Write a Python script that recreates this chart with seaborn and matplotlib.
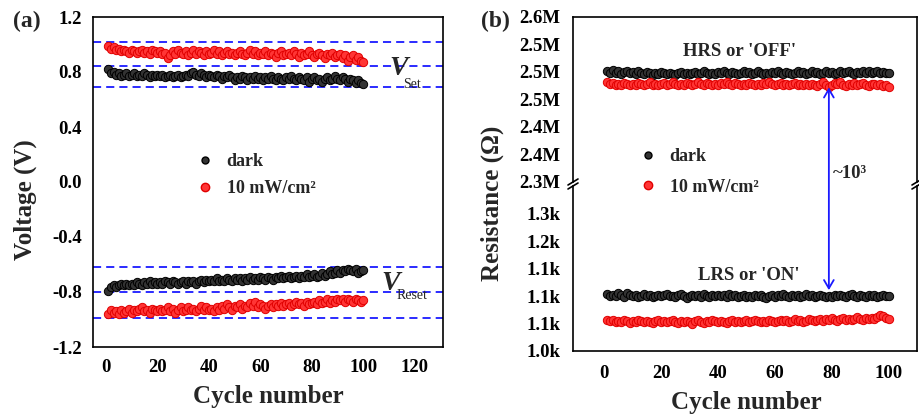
import matplotlib
matplotlib.use("Agg")
import matplotlib.pyplot as plt
import seaborn as sns
import numpy as np
import pandas as pd
from matplotlib.lines import Line2D
from matplotlib.patches import ConnectionPatch
from matplotlib.ticker import FixedLocator, FixedFormatter, MultipleLocator

# ---------------- data ----------------
cycles = list(range(1, 101))

set_light = [0.99, 0.97, 0.98, 0.96, 0.97, 0.95, 0.96, 0.95, 0.94, 0.96,
             0.95, 0.94, 0.95, 0.96, 0.94, 0.95, 0.93, 0.96, 0.95, 0.94,
             0.95, 0.93, 0.94, 0.90, 0.92, 0.95, 0.93, 0.96, 0.94, 0.93,
             0.95, 0.92, 0.94, 0.96, 0.93, 0.95, 0.94, 0.92, 0.95, 0.93,
             0.94, 0.96, 0.93, 0.95, 0.92, 0.94, 0.95, 0.93, 0.94, 0.92,
             0.94, 0.95, 0.93, 0.92, 0.94, 0.96, 0.93, 0.95, 0.92, 0.94,
             0.93, 0.95, 0.92, 0.94, 0.93, 0.91, 0.94, 0.95, 0.92, 0.93,
             0.94, 0.92, 0.95, 0.93, 0.91, 0.94, 0.92, 0.93, 0.95, 0.92,
             0.91, 0.93, 0.94, 0.92, 0.90, 0.93, 0.92, 0.94, 0.91, 0.92,
             0.93, 0.90, 0.92, 0.88, 0.91, 0.92, 0.89, 0.91, 0.88, 0.87]

set_dark = [0.82, 0.79, 0.80, 0.78, 0.79, 0.77, 0.78, 0.79, 0.77, 0.78,
            0.79, 0.77, 0.78, 0.77, 0.79, 0.78, 0.76, 0.78, 0.77, 0.78,
            0.77, 0.78, 0.76, 0.77, 0.78, 0.76, 0.77, 0.78, 0.76, 0.77,
            0.78, 0.77, 0.79, 0.80, 0.78, 0.77, 0.79, 0.78, 0.76, 0.78,
            0.77, 0.76, 0.78, 0.77, 0.75, 0.77, 0.76, 0.78, 0.76, 0.74,
            0.76, 0.75, 0.77, 0.76, 0.74, 0.76, 0.75, 0.77, 0.75, 0.76,
            0.74, 0.76, 0.75, 0.77, 0.75, 0.74, 0.76, 0.75, 0.74, 0.76,
            0.75, 0.77, 0.75, 0.74, 0.76, 0.75, 0.74, 0.76, 0.73, 0.75,
            0.76, 0.74, 0.75, 0.73, 0.75, 0.76, 0.74, 0.75, 0.77, 0.75,
            0.74, 0.76, 0.75, 0.73, 0.75, 0.74, 0.72, 0.74, 0.72, 0.71]

reset_dark = [-0.79, -0.76, -0.75, -0.76, -0.75, -0.74, -0.75, -0.74, -0.75, -0.74,
              -0.75, -0.73, -0.74, -0.75, -0.73, -0.74, -0.72, -0.74, -0.73, -0.74,
              -0.73, -0.74, -0.72, -0.73, -0.74, -0.72, -0.73, -0.74, -0.73, -0.72,
              -0.74, -0.72, -0.73, -0.72, -0.74, -0.72, -0.71, -0.73, -0.71, -0.72,
              -0.71, -0.72, -0.70, -0.72, -0.71, -0.72, -0.70, -0.71, -0.72, -0.70,
              -0.71, -0.70, -0.72, -0.70, -0.71, -0.69, -0.71, -0.70, -0.71, -0.69,
              -0.70, -0.71, -0.69, -0.70, -0.71, -0.69, -0.70, -0.68, -0.70, -0.69,
              -0.68, -0.70, -0.69, -0.68, -0.70, -0.68, -0.69, -0.67, -0.69, -0.68,
              -0.67, -0.69, -0.68, -0.66, -0.68, -0.67, -0.65, -0.67, -0.66, -0.64,
              -0.66, -0.64, -0.65, -0.63, -0.64, -0.65, -0.63, -0.66, -0.65, -0.64]

reset_light = [-0.96, -0.93, -0.95, -0.94, -0.96, -0.93, -0.95, -0.94, -0.92, -0.95,
               -0.93, -0.94, -0.92, -0.91, -0.94, -0.93, -0.95, -0.92, -0.93, -0.94,
               -0.92, -0.94, -0.93, -0.91, -0.94, -0.92, -0.95, -0.93, -0.91, -0.94,
               -0.93, -0.91, -0.93, -0.92, -0.94, -0.92, -0.90, -0.93, -0.91, -0.93,
               -0.92, -0.94, -0.91, -0.93, -0.90, -0.92, -0.89, -0.91, -0.93, -0.90,
               -0.91, -0.89, -0.92, -0.90, -0.91, -0.88, -0.90, -0.87, -0.91, -0.89,
               -0.90, -0.92, -0.90, -0.89, -0.91, -0.89, -0.90, -0.88, -0.90, -0.89,
               -0.88, -0.90, -0.89, -0.87, -0.89, -0.88, -0.90, -0.87, -0.89, -0.88,
               -0.87, -0.89, -0.86, -0.88, -0.87, -0.85, -0.88, -0.86, -0.87, -0.85,
               -0.86, -0.85, -0.87, -0.85, -0.86, -0.87, -0.85, -0.86, -0.87, -0.86]

guide_levels = [1.02, 0.845, 0.69, -0.62, -0.80, -0.99]

# resistance, HRS in MOhm, LRS in Ohm
hrs_dark = [2.502, 2.499, 2.503, 2.498, 2.501, 2.497, 2.500, 2.502, 2.498, 2.500,
            2.497, 2.501, 2.499, 2.496, 2.500, 2.498, 2.495, 2.499, 2.497, 2.500,
            2.498, 2.496, 2.499, 2.497, 2.495, 2.498, 2.500, 2.497, 2.499, 2.496,
            2.498, 2.500, 2.497, 2.499, 2.501, 2.498, 2.496, 2.499, 2.497, 2.500,
            2.498, 2.501, 2.499, 2.497, 2.500, 2.498, 2.496, 2.499, 2.501, 2.498,
            2.500, 2.497, 2.499, 2.501, 2.498, 2.496, 2.499, 2.497, 2.500, 2.498,
            2.501, 2.499, 2.497, 2.500, 2.498, 2.496, 2.499, 2.501, 2.498, 2.500,
            2.497, 2.499, 2.501, 2.498, 2.500, 2.497, 2.499, 2.502, 2.498, 2.500,
            2.497, 2.499, 2.501, 2.498, 2.500, 2.502, 2.499, 2.497, 2.500, 2.498,
            2.501, 2.499, 2.502, 2.498, 2.500, 2.501, 2.498, 2.500, 2.499, 2.498]

hrs_light = [2.481, 2.478, 2.480, 2.477, 2.479, 2.476, 2.480, 2.478, 2.476, 2.479,
             2.477, 2.480, 2.478, 2.476, 2.479, 2.481, 2.477, 2.479, 2.476, 2.478,
             2.480, 2.477, 2.479, 2.481, 2.478, 2.476, 2.479, 2.477, 2.480, 2.478,
             2.476, 2.479, 2.481, 2.478, 2.477, 2.480, 2.478, 2.476, 2.479, 2.477,
             2.480, 2.478, 2.482, 2.479, 2.477, 2.480, 2.478, 2.476, 2.479, 2.477,
             2.480, 2.478, 2.476, 2.479, 2.477, 2.480, 2.478, 2.481, 2.479, 2.476,
             2.478, 2.480, 2.477, 2.479, 2.476, 2.478, 2.480, 2.477, 2.479, 2.476,
             2.478, 2.477, 2.479, 2.476, 2.474, 2.478, 2.481, 2.476, 2.473, 2.477,
             2.480, 2.478, 2.481, 2.477, 2.475, 2.479, 2.477, 2.480, 2.476, 2.478,
             2.480, 2.477, 2.475, 2.479, 2.478, 2.476, 2.479, 2.474, 2.477, 2.473]

lrs_dark = [1104, 1101, 1103, 1100, 1105, 1102, 1099, 1106, 1103, 1100,
            1102, 1099, 1101, 1104, 1100, 1102, 1098, 1101, 1103, 1100,
            1102, 1104, 1100, 1101, 1098, 1102, 1104, 1100, 1097, 1101,
            1103, 1100, 1102, 1099, 1104, 1101, 1098, 1102, 1100, 1103,
            1100, 1102, 1099, 1104, 1101, 1103, 1098, 1100, 1102, 1099,
            1101, 1098, 1103, 1100, 1102, 1099, 1096, 1101, 1103, 1099,
            1102, 1100, 1104, 1101, 1098, 1102, 1100, 1103, 1099, 1101,
            1104, 1100, 1102, 1099, 1101, 1103, 1100, 1098, 1101, 1099,
            1102, 1100, 1103, 1101, 1099, 1102, 1104, 1100, 1098, 1102,
            1101, 1099, 1103, 1100, 1102, 1099, 1101, 1103, 1100, 1101]

lrs_light = [1057, 1054, 1056, 1053, 1055, 1052, 1056, 1054, 1051, 1055,
             1053, 1056, 1054, 1052, 1055, 1053, 1051, 1054, 1056, 1053,
             1055, 1052, 1054, 1056, 1053, 1051, 1054, 1052, 1055, 1053,
             1050, 1054, 1056, 1053, 1051, 1055, 1053, 1056, 1054, 1052,
             1055, 1053, 1051, 1054, 1056, 1053, 1055, 1052, 1054, 1056,
             1053, 1055, 1057, 1054, 1052, 1055, 1053, 1056, 1054, 1052,
             1055, 1057, 1054, 1056, 1053, 1055, 1058, 1054, 1056, 1053,
             1055, 1058, 1056, 1054, 1057, 1059, 1055, 1058, 1056, 1060,
             1057, 1055, 1059, 1061, 1057, 1059, 1056, 1058, 1062, 1059,
             1057, 1060, 1058, 1061, 1059, 1062, 1066, 1063, 1060, 1058]

series_labels = ["dark", "10 mW/cm\u00b2"]

volt_ticks = [-1.2, -0.8, -0.4, 0.0, 0.4, 0.8, 1.2]
volt_ticklabels = ["-1.2", "-0.8", "-0.4", "0.0", "0.4", "0.8", "1.2"]
hrs_ticks = [2.30, 2.35, 2.40, 2.45, 2.50, 2.55, 2.60]
hrs_ticklabels = ["2.3M", "2.4M", "2.4M", "2.5M", "2.5M", "2.5M", "2.6M"]
lrs_ticks = [1000, 1050, 1100, 1150, 1200, 1250]
lrs_ticklabels = ["1.0k", "1.1k", "1.1k", "1.1k", "1.2k", "1.3k"]

# ---------------- style ----------------
sns.set_style("white")
plt.rcParams["font.family"] = ["Liberation Serif", "DejaVu Serif"]
plt.rcParams["font.weight"] = "bold"
plt.rcParams["axes.unicode_minus"] = False
plt.rcParams["axes.linewidth"] = 1.2

W, H = 920, 418
def fx(px): return px / W
def fy(py): return 1 - py / H

BLACK_FC, BLACK_EC = "#333333", "#000000"
RED_FC, RED_EC = "#ff3535", "#e00000"
BLUE = "#1a1aff"
TICKFS = 13.5
LABELFS = 18
MS = 36

fig = plt.figure(figsize=(9.2, 4.18), dpi=100)

def style_ticks(ax):
    ax.tick_params(which="both", direction="in", top=False, right=False,
                   labelsize=TICKFS, width=1.2, colors="black")
    ax.tick_params(which="major", length=5)
    ax.tick_params(which="minor", length=3)
    for lab in ax.get_xticklabels() + ax.get_yticklabels():
        lab.set_fontweight("bold")
    for s in ax.spines.values():
        s.set_color("black")
        s.set_linewidth(1.2)

def scatter(ax, y, fc, ec):
    df = pd.DataFrame({"cycle": cycles, "val": y})
    sns.scatterplot(data=df, x="cycle", y="val", ax=ax, s=MS, color=fc,
                    edgecolor=ec, linewidth=0.7, legend=False, zorder=3)

# ---------------- panel (a) ----------------
axA = fig.add_axes([fx(93), fy(347), fx(443) - fx(93), fy(17) - fy(347)])
for lvl in guide_levels:
    axA.axhline(lvl, color=BLUE, lw=1.3, ls=(0, (4.5, 2.8)), zorder=1)
scatter(axA, set_light, RED_FC, RED_EC)
scatter(axA, set_dark, BLACK_FC, BLACK_EC)
scatter(axA, reset_dark, BLACK_FC, BLACK_EC)
scatter(axA, reset_light, RED_FC, RED_EC)
axA.set_xlim(-5, 131)
axA.set_ylim(-1.2, 1.2)
axA.xaxis.set_major_locator(MultipleLocator(20))
axA.xaxis.set_minor_locator(MultipleLocator(10))
axA.yaxis.set_major_locator(FixedLocator(volt_ticks))
axA.yaxis.set_major_formatter(FixedFormatter(volt_ticklabels))
axA.yaxis.set_minor_locator(MultipleLocator(0.2))
axA.set_xlabel("")
axA.set_ylabel("")
style_ticks(axA)
axA.tick_params(axis="y", pad=8)
axA.tick_params(axis="x", pad=9)

axA.text(110.3, 0.822, "V", fontsize=20, fontstyle="italic", fontweight="bold",
         ha="left", va="center")
axA.text(115.5, 0.708, "Set", fontsize=10, fontweight="normal", ha="left", va="center")
axA.text(107.0, -0.735, "V", fontsize=20, fontstyle="italic", fontweight="bold",
         ha="left", va="center")
axA.text(113.0, -0.825, "Reset", fontsize=10, fontweight="normal", ha="left", va="center")

handles = [Line2D([], [], ls="", marker="o", markersize=5, markerfacecolor=BLACK_FC,
                  markeredgecolor=BLACK_EC),
           Line2D([], [], ls="", marker="o", markersize=6, markerfacecolor=RED_FC,
                  markeredgecolor=RED_EC)]
axA.legend(handles, series_labels, loc="upper left", bbox_to_anchor=(fx(196), fy(153)),
           bbox_transform=fig.transFigure, frameon=False, borderpad=0, borderaxespad=0,
           handlelength=1.0, handletextpad=0.7, labelspacing=0.55,
           prop={"size": 13, "weight": "bold"})

fig.text(fx(13), fy(21), "(a)", fontsize=17, fontweight="bold", ha="left", va="center")
fig.text(fx(25), fy(200), "Voltage (V)", fontsize=LABELFS, fontweight="bold",
         rotation=90, ha="center", va="center")
fig.text(fx(268), fy(396), "Cycle number", fontsize=LABELFS, fontweight="bold",
         ha="center", va="center")

# ---------------- panel (b) ----------------
left_b, right_b = 573, 917
axT = fig.add_axes([fx(left_b), fy(182), fx(right_b) - fx(left_b), fy(17) - fy(182)])
axB = fig.add_axes([fx(left_b), fy(351), fx(right_b) - fx(left_b), fy(186) - fy(351)])

scatter(axT, hrs_dark, BLACK_FC, BLACK_EC)
scatter(axT, hrs_light, RED_FC, RED_EC)
scatter(axB, lrs_dark, BLACK_FC, BLACK_EC)
scatter(axB, lrs_light, RED_FC, RED_EC)

for ax in (axT, axB):
    ax.set_xlim(-11, 110)
    ax.set_xlabel("")
    ax.set_ylabel("")
    ax.xaxis.set_major_locator(MultipleLocator(20))
    ax.xaxis.set_minor_locator(MultipleLocator(10))

axT.set_ylim(2.30, 2.60)
axT.yaxis.set_major_locator(FixedLocator(hrs_ticks))
axT.yaxis.set_major_formatter(FixedFormatter(hrs_ticklabels))
axT.yaxis.set_minor_locator(MultipleLocator(0.025))
axB.set_ylim(1000, 1301)
axB.yaxis.set_major_locator(FixedLocator(lrs_ticks))
axB.yaxis.set_major_formatter(FixedFormatter(lrs_ticklabels))
axB.yaxis.set_minor_locator(MultipleLocator(25))

style_ticks(axT)
style_ticks(axB)
axT.spines["bottom"].set_visible(False)
axB.spines["top"].set_visible(False)
axT.tick_params(axis="x", which="both", bottom=False, labelbottom=False)
axT.tick_params(axis="y", pad=9)
axB.tick_params(axis="y", pad=9)
axB.tick_params(axis="x", pad=10)

# break marks
for xb in (left_b, right_b):
    for yb in (182, 186):
        fig.add_artist(Line2D([fx(xb - 5), fx(xb + 5)], [fy(yb + 3), fy(yb - 3)],
                              transform=fig.transFigure, color="black", lw=1.2))

# arrow between states
arrow = ConnectionPatch(xyA=(79, 2.472), coordsA=axT.transData,
                        xyB=(79, 1111), coordsB=axB.transData,
                        arrowstyle="<->,head_length=0.6,head_width=0.35",
                        color=BLUE, lw=1.3, shrinkA=0, shrinkB=0)
fig.add_artist(arrow)
axT.text(80.5, 2.316, "~10\u00b3", fontsize=13.5, fontweight="bold", ha="left", va="center")
axT.text(47.5, 2.538, "HRS or 'OFF'", fontsize=13.5, fontweight="bold", ha="center", va="center")
axB.text(51, 1137, "LRS or 'ON'", fontsize=13.5, fontweight="bold", ha="center", va="center")

fig.legend(handles, series_labels, loc="upper left", bbox_to_anchor=(fx(639), fy(148)),
           bbox_transform=fig.transFigure, frameon=False, borderpad=0, borderaxespad=0,
           handlelength=1.0, handletextpad=0.7, labelspacing=0.75,
           prop={"size": 13, "weight": "bold"})

fig.text(fx(481), fy(21), "(b)", fontsize=17, fontweight="bold", ha="left", va="center")
fig.text(fx(492), fy(203), "Resistance (\u03a9)", fontsize=LABELFS, fontweight="bold",
         rotation=90, ha="center", va="center")
fig.text(fx(746), fy(403), "Cycle number", fontsize=LABELFS, fontweight="bold",
         ha="center", va="center")

fig.savefig("out.png", dpi=100)
